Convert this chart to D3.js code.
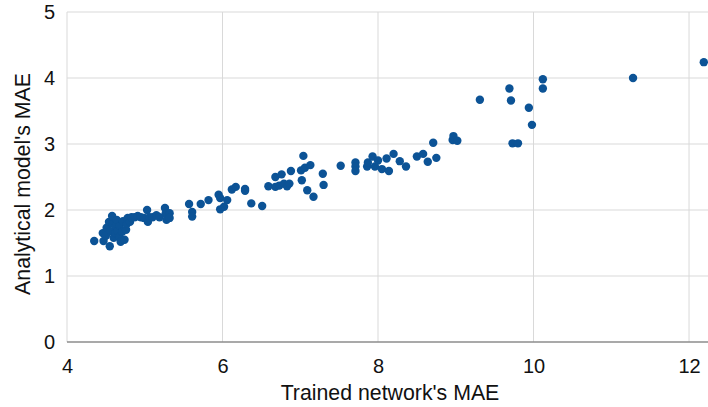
<!DOCTYPE html>
<html>
<head>
<meta charset="utf-8">
<script src="https://cdn.jsdelivr.net/npm/d3@7"></script>
<style>
  html, body { margin: 0; padding: 0; background: #fff; }
  svg { display: block; font-family: "Liberation Sans", Arial, sans-serif; }
</style>
</head>
<body>
<svg id="chart" width="708" height="407"></svg>
<script>
// Trained network MAE (x) against analytical model MAE (y)
const trainedMAE = [
  4.35, 4.46, 4.47, 4.50, 4.51, 4.54, 4.55, 4.56, 4.58, 4.59, 4.60, 4.62, 4.63, 4.64,
  4.65, 4.67, 4.68, 4.69, 4.71, 4.72, 4.74, 4.76, 4.77, 4.78, 4.81, 4.83, 4.87, 4.91,
  4.95, 4.99, 5.03, 5.04, 5.06, 5.10, 5.15, 5.19, 5.26, 5.27, 5.28, 5.32, 5.32,
  5.57, 5.61, 5.61, 5.72, 5.82, 5.95, 5.97, 6.02, 5.97, 6.06, 6.12, 6.17, 6.29, 6.29,
  6.37, 6.51, 6.59, 6.68, 6.68, 6.73, 6.76, 6.79, 6.83, 6.86, 6.88, 7.01, 7.02, 7.04,
  7.06, 7.09, 7.13, 7.17, 7.29, 7.30,
  7.52, 7.71, 7.71, 7.71, 7.86, 7.87, 7.93, 7.96, 8.00, 8.05, 8.11, 8.14, 8.20, 8.28,
  8.36, 8.50, 8.58, 8.64, 8.71, 8.75, 8.96, 8.97, 9.02,
  9.31, 9.69, 9.71, 9.73, 9.80, 9.94, 9.98, 10.12, 10.12, 11.28, 12.19
];
const analyticalMAE = [
  1.53, 1.65, 1.53, 1.61, 1.73, 1.82, 1.45, 1.68, 1.91, 1.79, 1.58, 1.65, 1.76, 1.85,
  1.68, 1.59, 1.76, 1.52, 1.67, 1.83, 1.55, 1.70, 1.79, 1.88, 1.82, 1.89, 1.89, 1.91,
  1.89, 1.88, 2.00, 1.82, 1.89, 1.89, 1.92, 1.89, 2.03, 1.95, 1.85, 1.95, 1.88,
  2.09, 1.97, 1.90, 2.09, 2.15, 2.23, 2.18, 2.05, 2.01, 2.15, 2.31, 2.35, 2.32, 2.29,
  2.10, 2.06, 2.36, 2.35, 2.50, 2.37, 2.54, 2.40, 2.36, 2.40, 2.59, 2.60, 2.45, 2.82,
  2.64, 2.30, 2.68, 2.20, 2.55, 2.38,
  2.67, 2.72, 2.66, 2.59, 2.66, 2.72, 2.81, 2.66, 2.75, 2.62, 2.78, 2.59, 2.85, 2.74,
  2.66, 2.81, 2.85, 2.73, 3.02, 2.79, 3.06, 3.12, 3.05,
  3.67, 3.84, 3.66, 3.01, 3.01, 3.55, 3.29, 3.98, 3.84, 4.00, 4.24
];
const xTicks = [4, 6, 8, 10, 12];
const yTicks = [0, 1, 2, 3, 4, 5];

const points = trainedMAE.map((v, i) => ({ x: v, y: analyticalMAE[i] }));

const svg = d3.select("#chart");
const plotLeft = 67, plotRight = 708, plotTop = 12, plotBottom = 342;

const x = d3.scaleLinear().domain([4, 12.244]).range([plotLeft, plotRight]);
const y = d3.scaleLinear().domain([0, 5]).range([plotBottom, plotTop]);

// Gridlines
svg.append("g")
  .selectAll("line")
  .data(yTicks.filter(t => t > 0))
  .join("line")
  .attr("x1", plotLeft).attr("x2", plotRight)
  .attr("y1", d => y(d)).attr("y2", d => y(d))
  .attr("stroke", "#d9d9d9").attr("stroke-width", 1);

svg.append("g")
  .selectAll("line")
  .data(xTicks)
  .join("line")
  .attr("x1", d => x(d)).attr("x2", d => x(d))
  .attr("y1", plotTop).attr("y2", plotBottom)
  .attr("stroke", "#d9d9d9").attr("stroke-width", 1);

// Baseline
svg.append("line")
  .attr("x1", plotLeft).attr("x2", plotRight)
  .attr("y1", y(0)).attr("y2", y(0))
  .attr("stroke", "#8c8c8c").attr("stroke-width", 1.3);

// Axes (labels only)
const xAxis = svg.append("g")
  .attr("transform", `translate(0,${plotBottom})`)
  .call(d3.axisBottom(x).tickValues(xTicks).tickSize(0).tickPadding(17).tickFormat(d3.format("d")));
xAxis.select(".domain").remove();
xAxis.selectAll("text").attr("font-size", 20).attr("fill", "#111")
  .attr("font-family", "Liberation Sans, Arial, sans-serif");

const yAxis = svg.append("g")
  .attr("transform", `translate(${plotLeft},0)`)
  .call(d3.axisLeft(y).tickValues(yTicks).tickSize(0).tickPadding(12).tickFormat(d3.format("d")));
yAxis.select(".domain").remove();
yAxis.selectAll("text").attr("font-size", 20).attr("fill", "#111")
  .attr("font-family", "Liberation Sans, Arial, sans-serif");

// Axis titles
svg.append("text")
  .attr("x", 390).attr("y", 400)
  .attr("text-anchor", "middle")
  .attr("font-size", 21.3).attr("fill", "#111")
  .text("Trained network's MAE");

svg.append("text")
  .attr("transform", "translate(30,184) rotate(-90)")
  .attr("text-anchor", "middle")
  .attr("font-size", 21.3).attr("fill", "#111")
  .text("Analytical model's MAE");

// Points
svg.append("g")
  .selectAll("circle")
  .data(points)
  .join("circle")
  .attr("cx", d => x(d.x))
  .attr("cy", d => y(d.y))
  .attr("r", 4.2)
  .attr("fill", "#0c5396");
</script>
</body>
</html>
